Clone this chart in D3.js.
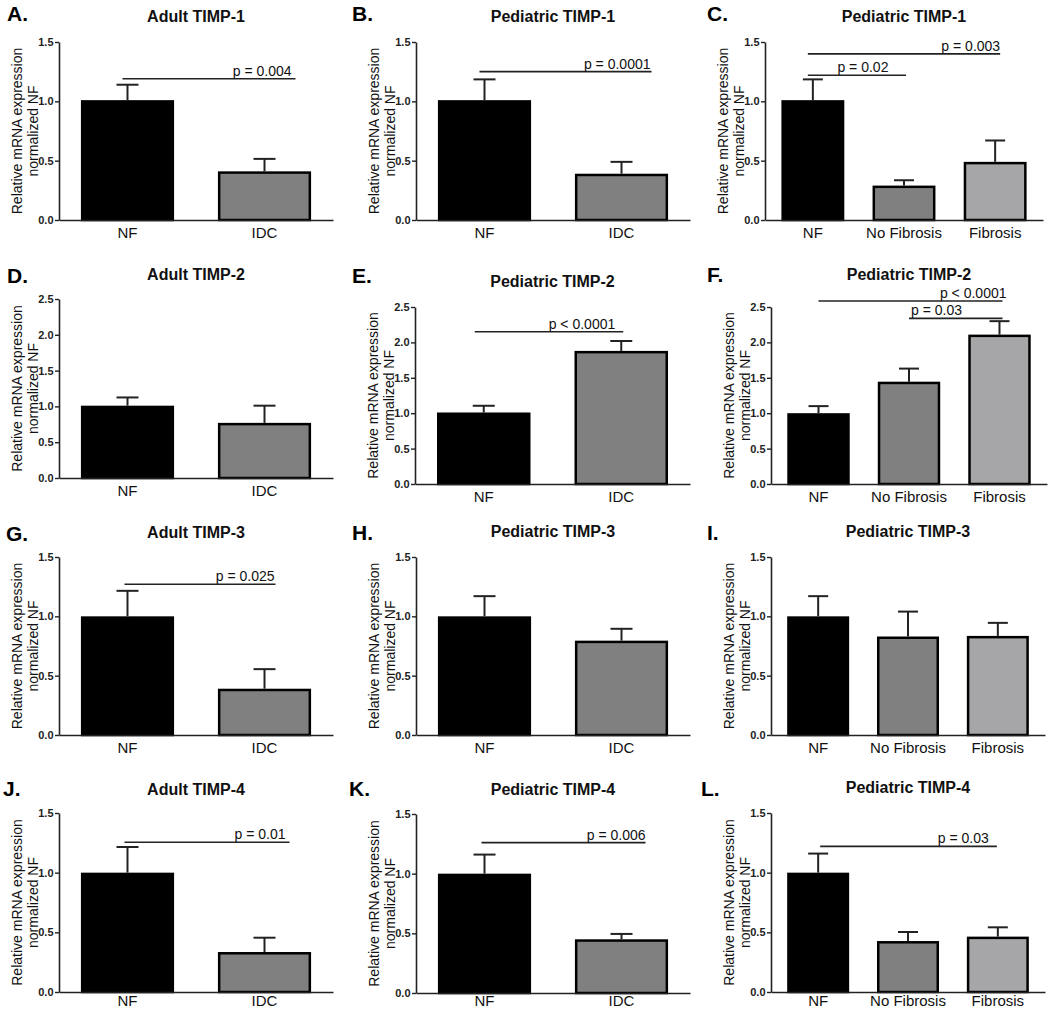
<!DOCTYPE html>
<html>
<head>
<meta charset="utf-8">
<script src="https://cdn.jsdelivr.net/npm/d3@7"></script>
<style>
  html, body { margin: 0; padding: 0; background: #fff; }
  svg { display: block; font-family: "Liberation Sans", Arial, Helvetica, sans-serif; }
</style>
</head>
<body>
<svg id="chart" width="1050" height="1011"></svg>
<script>
// ---------------- DATA ----------------
const panelLetters = ["A.", "B.", "C.", "D.", "E.", "F.", "G.", "H.", "I.", "J.", "K.", "L."];
const panelTitles = [
  "Adult TIMP-1", "Pediatric TIMP-1", "Pediatric TIMP-1",
  "Adult TIMP-2", "Pediatric TIMP-2", "Pediatric TIMP-2",
  "Adult TIMP-3", "Pediatric TIMP-3", "Pediatric TIMP-3",
  "Adult TIMP-4", "Pediatric TIMP-4", "Pediatric TIMP-4"
];
const twoGroups = ["NF", "IDC"];
const threeGroups = ["NF", "No Fibrosis", "Fibrosis"];
const panelCategories = [
  twoGroups, twoGroups, threeGroups,
  twoGroups, twoGroups, threeGroups,
  twoGroups, twoGroups, threeGroups,
  twoGroups, twoGroups, threeGroups
];
const panelMeans = [
  [1.01, 0.41], [1.01, 0.39], [1.01, 0.29, 0.49],
  [1.01, 0.77], [1.01, 1.88], [1.00, 1.445, 2.11],
  [1.00, 0.39], [1.00, 0.795], [1.00, 0.83, 0.835],
  [1.00, 0.335], [1.00, 0.45], [1.00, 0.427, 0.464]
];
const panelSEM = [
  [0.13, 0.105], [0.175, 0.10], [0.175, 0.045, 0.18],
  [0.115, 0.24], [0.095, 0.14], [0.10, 0.185, 0.19],
  [0.215, 0.165], [0.17, 0.10], [0.17, 0.21, 0.11],
  [0.215, 0.12], [0.16, 0.045], [0.16, 0.076, 0.078]
];
const panelYMax = [1.5, 1.5, 1.5, 2.5, 2.5, 2.5, 1.5, 1.5, 1.5, 1.5, 1.5, 1.5];
const yTicksSmall = [0, 0.5, 1.0, 1.5];
const yTicksLarge = [0, 0.5, 1.0, 1.5, 2.0, 2.5];
const yLabelLines = ["Relative mRNA expression", "normalized NF"];
const panelSignificance = [
  [{ from: "NF", to: "IDC", y: 1.19, label: "p = 0.004" }],
  [{ from: "NF", to: "IDC", y: 1.25, label: "p = 0.0001" }],
  [{ from: "NF", to: "Fibrosis", y: 1.40, label: "p = 0.003" },
   { from: "NF", to: "No Fibrosis", y: 1.22, label: "p = 0.02" }],
  [],
  [{ from: "NF", to: "IDC", y: 2.15, label: "p < 0.0001" }],
  [{ from: "NF", to: "Fibrosis", y: 2.585, label: "p < 0.0001" },
   { from: "No Fibrosis", to: "Fibrosis", y: 2.34, label: "p = 0.03" }],
  [{ from: "NF", to: "IDC", y: 1.27, label: "p = 0.025" }],
  [],
  [],
  [{ from: "NF", to: "IDC", y: 1.255, label: "p = 0.01" }],
  [{ from: "NF", to: "IDC", y: 1.26, label: "p = 0.006" }],
  [{ from: "NF", to: "Fibrosis", y: 1.22, label: "p = 0.03" }]
];

// ---------------- LAYOUT / STYLE ----------------
const groupColors = { "NF": "#000000", "IDC": "#808080", "No Fibrosis": "#808080", "Fibrosis": "#a6a6a9" };
// axis x, y of top, y of zero, x axis end, title baseline, letter x/y, category label padding
const panelLayout = [
  { ax: 59,  top: 42,  zero: 220, end: 333,  titleY: 22,  lx: 7,   ly: 21,  pad: 7 },
  { ax: 416, top: 42,  zero: 220, end: 690,  titleY: 22,  lx: 352, ly: 21,  pad: 7 },
  { ax: 765, top: 42,  zero: 220, end: 1043, titleY: 22,  lx: 707, ly: 21,  pad: 7 },
  { ax: 59,  top: 299, zero: 478, end: 333,  titleY: 280, lx: 7,   ly: 283, pad: 7 },
  { ax: 415, top: 307, zero: 484, end: 690,  titleY: 287, lx: 352, ly: 283, pad: 7 },
  { ax: 771, top: 307, zero: 484, end: 1047, titleY: 280, lx: 707, ly: 282, pad: 7 },
  { ax: 59,  top: 557, zero: 735, end: 333,  titleY: 538, lx: 6,   ly: 541, pad: 7 },
  { ax: 416, top: 557, zero: 735, end: 690,  titleY: 537, lx: 352, ly: 540, pad: 7 },
  { ax: 771, top: 557, zero: 735, end: 1045, titleY: 537, lx: 707, ly: 540, pad: 7 },
  { ax: 59,  top: 813, zero: 992, end: 333,  titleY: 795, lx: 3,   ly: 796, pad: 3.5 },
  { ax: 416, top: 814, zero: 993, end: 690,  titleY: 795, lx: 349, ly: 796, pad: 2.5 },
  { ax: 771, top: 813, zero: 992, end: 1045, titleY: 793, lx: 701, ly: 796, pad: 3.5 }
];
// pixel nudges of significance bars (start, end, text offset, anchor)
const sigNudges = [
  [{ d1: -5, d2: 31, t: -4, a: "end" }],
  [{ d1: -5, d2: 30, t: -1, a: "end" }],
  [{ d1: -5, d2: 5, t: 0, a: "end" }, { d1: -5, d2: 2, t: 6, a: "middle" }],
  [],
  [{ d1: -9, d2: 2, t: -8, a: "end" }],
  [{ d1: 0, d2: 3, t: 4, a: "end" }, { d1: 0, d2: 3, t: 2, a: "start" }],
  [{ d1: -3, d2: 11, t: -1, a: "end" }],
  [],
  [],
  [{ d1: -3, d2: 25, t: -4, a: "end" }],
  [{ d1: -3, d2: 24, t: 0, a: "end" }],
  [{ d1: 2, d2: -1, t: -8, a: "end" }]
];

const svg = d3.select("#chart");
svg.append("rect").attr("width", 1050).attr("height", 1011).attr("fill", "#fff");

panelTitles.forEach((title, i) => {
  const L = panelLayout[i];
  const cats = panelCategories[i];
  const means = panelMeans[i];
  const sems = panelSEM[i];
  const g = svg.append("g");

  const x = d3.scaleBand().domain(cats).range([L.ax, L.end])
    .paddingInner(cats.length === 2 ? 0.32 : 0.31)
    .paddingOuter(cats.length === 2 ? 0.16 : 0.18);
  const y = d3.scaleLinear().domain([0, panelYMax[i]]).range([L.zero, L.top]);
  const ticks = panelYMax[i] > 2 ? yTicksLarge : yTicksSmall;

  // bars
  const rows = cats.map((c, k) => ({ c, m: means[k], s: sems[k] }));
  g.selectAll("rect.bar").data(rows).enter().append("rect")
    .attr("class", "bar")
    .attr("x", d => x(d.c) + 1.25)
    .attr("width", x.bandwidth() - 2.5)
    .attr("y", d => y(d.m) + 1.25)
    .attr("height", d => y(0) - y(d.m) - 1.25)
    .attr("fill", d => groupColors[d.c])
    .attr("stroke", "#000")
    .attr("stroke-width", 2.5);

  // error bars (upper only)
  const capW = cats.length === 2 ? 22 : 20;
  g.selectAll("line.err").data(rows).enter().append("line")
    .attr("x1", d => x(d.c) + x.bandwidth() / 2)
    .attr("x2", d => x(d.c) + x.bandwidth() / 2)
    .attr("y1", d => y(d.m))
    .attr("y2", d => y(d.m + d.s))
    .attr("stroke", "#222").attr("stroke-width", 2);
  g.selectAll("line.cap").data(rows).enter().append("line")
    .attr("x1", d => x(d.c) + x.bandwidth() / 2 - capW / 2)
    .attr("x2", d => x(d.c) + x.bandwidth() / 2 + capW / 2)
    .attr("y1", d => y(d.m + d.s))
    .attr("y2", d => y(d.m + d.s))
    .attr("stroke", "#222").attr("stroke-width", 2);

  // y axis
  const yAxis = g.append("g").attr("transform", `translate(${L.ax},0)`)
    .call(d3.axisLeft(y).tickValues(ticks).tickFormat(d3.format(".1f"))
      .tickSize(4).tickSizeOuter(0).tickPadding(1.5));
  yAxis.select(".domain").attr("stroke", "#222").attr("stroke-width", 1.6);
  yAxis.selectAll(".tick line").attr("stroke", "#222").attr("stroke-width", 1.4);
  yAxis.selectAll("text").attr("font-size", 11).attr("font-weight", "bold").attr("fill", "#222");

  // x axis
  const xAxis = g.append("g").attr("transform", `translate(0,${L.zero})`)
    .call(d3.axisBottom(x).tickSize(0).tickSizeOuter(0).tickPadding(L.pad));
  xAxis.select(".domain").attr("stroke", "#222").attr("stroke-width", 1.6);
  xAxis.selectAll("text").attr("font-size", 15).attr("fill", "#111");

  // y label
  const midY = (L.top + L.zero) / 2;
  yLabelLines.forEach((t, k) => {
    g.append("text")
      .attr("transform", `translate(${L.ax - (k === 0 ? 37 : 21)},${midY}) rotate(-90)`)
      .attr("text-anchor", "middle")
      .attr("font-size", 14)
      .attr("fill", "#111")
      .text(t);
  });

  // title
  g.append("text")
    .attr("x", (L.ax + L.end) / 2)
    .attr("y", L.titleY)
    .attr("text-anchor", "middle")
    .attr("font-size", 16)
    .attr("font-weight", "bold")
    .attr("fill", "#111")
    .text(title);

  // panel letter
  g.append("text")
    .attr("x", L.lx).attr("y", L.ly)
    .attr("font-size", 21).attr("font-weight", "bold").attr("fill", "#000")
    .text(panelLetters[i]);

  // significance bars
  panelSignificance[i].forEach((s, k) => {
    const n = sigNudges[i][k];
    const x1 = x(s.from) + x.bandwidth() / 2 + n.d1;
    const x2 = x(s.to) + x.bandwidth() / 2 + n.d2;
    const yy = y(s.y);
    g.append("line").attr("x1", x1).attr("x2", x2).attr("y1", yy).attr("y2", yy)
      .attr("stroke", "#222").attr("stroke-width", 1.6);
    const tx = n.a === "end" ? x2 + n.t : n.a === "start" ? x1 + n.t : (x1 + x2) / 2 + n.t;
    g.append("text").attr("x", tx).attr("y", yy - 3)
      .attr("text-anchor", n.a)
      .attr("font-size", 14).attr("fill", "#111")
      .text(s.label);
  });
});
</script>
</body>
</html>
